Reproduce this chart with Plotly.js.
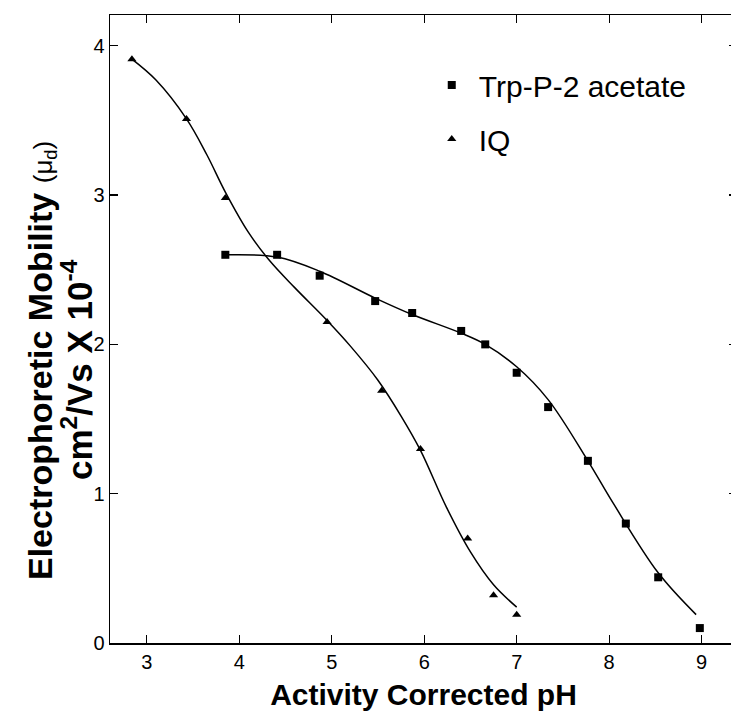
<!DOCTYPE html>
<html>
<head>
<meta charset="utf-8">
<script src="https://cdn.plot.ly/plotly-3.0.1.min.js"></script>
<style>
html, body { margin: 0; padding: 0; overflow: hidden; background: #fff; }
#chart { width: 740px; height: 716px; }
</style>
</head>
<body>
<div id="chart"></div>
<script>
// Measured data points
const trpX = [3.85, 4.41, 4.87, 5.47, 5.87, 6.40, 6.66, 7.00, 7.34, 7.77, 8.18, 8.53, 8.98];
const trpY = [2.60, 2.60, 2.46, 2.29, 2.21, 2.09, 2.00, 1.81, 1.58, 1.22, 0.80, 0.44, 0.10];
const iqX = [2.84, 3.43, 3.85, 4.95, 5.54, 5.96, 6.47, 6.75, 7.00];
const iqY = [3.91, 3.51, 2.98, 2.15, 1.69, 1.30, 0.70, 0.32, 0.19];

// Fitted curves
const trpFitX = [3.85, 4.41, 4.87, 5.47, 5.87, 6.40, 6.66, 7.00, 7.34, 7.77, 8.04, 8.53, 8.94];
const trpFitY = [2.60, 2.585, 2.49, 2.31, 2.20, 2.075, 2.00, 1.85, 1.63, 1.22, 0.94, 0.47, 0.19];
const iqFitX = [2.84, 3.10, 3.43, 3.65, 3.85, 4.10, 4.33, 4.60, 4.95, 5.20, 5.50, 5.75, 5.96, 6.24, 6.50, 6.75, 7.00];
const iqFitY = [3.91, 3.77, 3.51, 3.27, 3.02, 2.75, 2.56, 2.38, 2.16, 1.99, 1.76, 1.52, 1.29, 0.91, 0.61, 0.39, 0.24];

const seriesNames = ['Trp-P-2 acetate', 'IQ'];
const xTicks = [3, 4, 5, 6, 7, 8, 9];
const yTicks = [0, 1, 2, 3, 4];

const traces = [
  {x: trpFitX, y: trpFitY, mode: 'lines', line: {color: '#000', width: 1.5, shape: 'spline', smoothing: 1}, showlegend: false, hoverinfo: 'skip'},
  {x: iqFitX, y: iqFitY, mode: 'lines', line: {color: '#000', width: 1.5, shape: 'spline', smoothing: 1}, showlegend: false, hoverinfo: 'skip'},
  {x: trpX, y: trpY, mode: 'markers', name: seriesNames[0], legendgroup: 'a', marker: {symbol: 'square', size: 8, color: '#000'}},
  {x: iqX, y: iqY, mode: 'markers', name: seriesNames[1], legendgroup: 'b', marker: {symbol: 'triangle-up', size: 8, color: '#000'}}
];

const axisCommon = {
  showline: true, linecolor: '#000', linewidth: 1.5, mirror: 'ticks',
  ticks: 'inside', ticklen: 8, tickwidth: 1.3, tickcolor: '#000',
  showgrid: false, zeroline: false,
  tickfont: {family: 'Liberation Sans, Arial, sans-serif', size: 20, color: '#000'}
};

const layout = {
  width: 740, height: 716,
  margin: {l: 110, r: 3, t: 15, b: 73},
  paper_bgcolor: '#fff', plot_bgcolor: '#fff',
  xaxis: Object.assign({}, axisCommon, {
    range: [2.603, 9.382], tickvals: xTicks, ticktext: xTicks.map(String),
    title: {text: 'Activity Corrected pH', standoff: 12,
      font: {family: 'Liberation Sans, Arial, sans-serif', size: 30, weight: 'bold', color: '#000'}}
  }),
  yaxis: Object.assign({}, axisCommon, {
    range: [0, 4.206], tickvals: yTicks, ticktext: yTicks.map(String)
  }),
  showlegend: true,
  legend: {
    x: 0.502, y: 0.93, xanchor: 'left', yanchor: 'top', itemwidth: 44,
    bgcolor: 'rgba(0,0,0,0)', borderwidth: 0, tracegroupgap: 12,
    font: {family: 'Liberation Sans, Arial, sans-serif', size: 30, color: '#000'}
  },
  annotations: [
    {xref: 'paper', yref: 'paper', x: (41 - 110) / 627, y: (643 - 361) / 628,
     xanchor: 'center', yanchor: 'middle', textangle: -90, showarrow: false,
     font: {family: 'Liberation Sans, Arial, sans-serif', size: 34, color: '#000'},
     text: '<b>Electrophoretic Mobility</b> <span style="font-size:26px">(μ<sub>d</sub>)</span>'},
    {xref: 'paper', yref: 'paper', x: (77 - 110) / 627, y: (643 - 370) / 628,
     xanchor: 'center', yanchor: 'middle', textangle: -90, showarrow: false,
     font: {family: 'Liberation Sans, Arial, sans-serif', size: 35, color: '#000', weight: 'bold'},
     text: 'cm<sup>2</sup>/Vs X 10<sup>-4</sup>'}
  ]
};

Plotly.newPlot('chart', traces, layout, {displayModeBar: false, staticPlot: true});
</script>
</body>
</html>
